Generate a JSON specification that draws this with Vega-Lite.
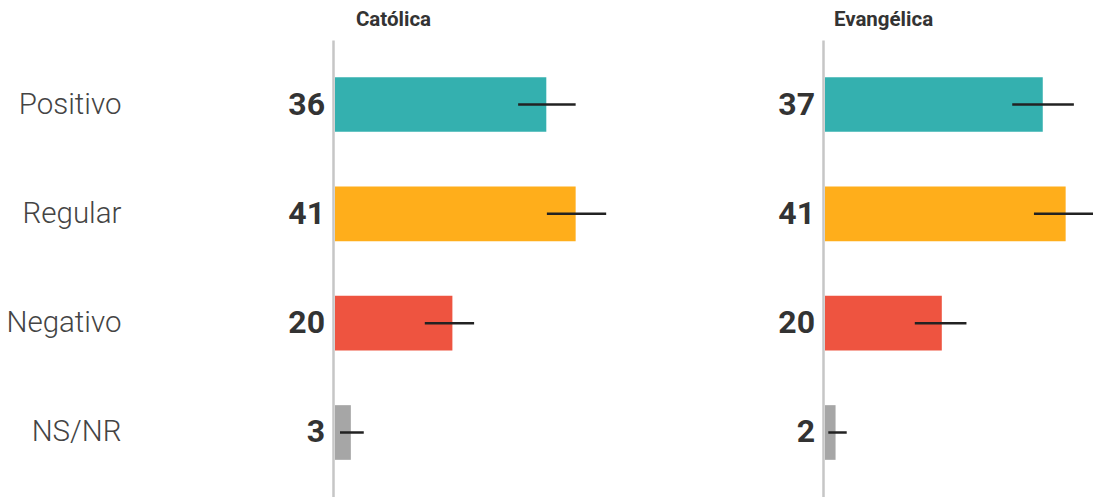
{
  "$schema": "https://vega.github.io/schema/vega-lite/v6.json",
  "background": "white",
  "padding": {"left": 5, "top": 9, "right": 0, "bottom": 0},
  "bounds": "flush",
  "spacing": 220,
  "config": {"view": {"stroke": null}, "font": "Roboto"},
  "datasets": {
    "d": [
      {"grupo": "Católica", "resp": "Positivo", "valor": 36, "lo": 31.2, "hi": 41.0, "rotulo": "36"},
      {"grupo": "Católica", "resp": "Regular", "valor": 41, "lo": 36.1, "hi": 46.2, "rotulo": "41"},
      {"grupo": "Católica", "resp": "Negativo", "valor": 20, "lo": 15.3, "hi": 23.7, "rotulo": "20"},
      {"grupo": "Católica", "resp": "NS/NR", "valor": 2.7, "lo": 0.85, "hi": 4.9, "rotulo": "3"},
      {"grupo": "Evangélica", "resp": "Positivo", "valor": 37.1, "lo": 31.9, "hi": 42.4, "rotulo": "37"},
      {"grupo": "Evangélica", "resp": "Regular", "valor": 41, "lo": 35.6, "hi": 46.4, "rotulo": "41"},
      {"grupo": "Evangélica", "resp": "Negativo", "valor": 19.9, "lo": 15.3, "hi": 24.1, "rotulo": "20"},
      {"grupo": "Evangélica", "resp": "NS/NR", "valor": 1.8, "lo": 0.56, "hi": 3.7, "rotulo": "2"}
    ]
  },
  "hconcat": [
    {
      "data": {"name": "d"},
      "transform": [{"filter": "datum.grupo === 'Católica'"}],
      "title": {"text": "Católica", "anchor": "start", "frame": "group", "align": "center", "dx": 58.5, "fontSize": 20.5, "fontWeight": "bold", "color": "#333333", "font": "Roboto", "offset": 10},
      "width": 270,
      "height": 457,
      "encoding": {
        "y": {"field": "resp", "type": "nominal", "sort": ["Positivo", "Regular", "Negativo", "NS/NR"],
              "scale": {"paddingInner": 0.5, "paddingOuter": 0.34},
              "axis": {"title": null, "ticks": false, "labelPadding": 212, "labelFontSize": 29.5, "labelFontWeight": 300, "labelColor": "#444444", "labelFont": "Roboto", "domainColor": "#c6c6c6", "domainWidth": 2.5, "offset": 2, "grid": false}}
      },
      "layer": [
        {"mark": {"type": "bar"},
         "encoding": {
           "x": {"field": "valor", "type": "quantitative", "scale": {"domain": [0, 46], "nice": false, "zero": true}, "axis": null},
           "color": {"field": "resp", "type": "nominal", "scale": {"domain": ["Positivo", "Regular", "Negativo", "NS/NR"], "range": ["#34b0af", "#ffae1b", "#ee5440", "#a6a6a6"]}, "legend": null}
         }},
        {"mark": {"type": "rule", "strokeWidth": 2.5, "color": "#222222"},
         "encoding": {"x": {"field": "lo", "type": "quantitative"}, "x2": {"field": "hi"}}},
        {"mark": {"type": "text", "align": "right", "baseline": "middle", "dx": -10, "fontSize": 32, "fontWeight": "bold", "color": "#333333", "font": "Roboto"},
         "encoding": {"x": {"datum": 0, "type": "quantitative"}, "text": {"field": "rotulo"}}}
      ]
    },
    {
      "data": {"name": "d"},
      "transform": [{"filter": "datum.grupo === 'Evangélica'"}],
      "title": {"text": "Evangélica", "anchor": "start", "frame": "group", "align": "center", "dx": 58.5, "fontSize": 20.5, "fontWeight": "bold", "color": "#333333", "font": "Roboto", "offset": 10},
      "width": 270,
      "height": 457,
      "encoding": {
        "y": {"field": "resp", "type": "nominal", "sort": ["Positivo", "Regular", "Negativo", "NS/NR"],
              "scale": {"paddingInner": 0.5, "paddingOuter": 0.34},
              "axis": {"title": null, "ticks": false, "labels": false, "domainColor": "#c6c6c6", "domainWidth": 2.5, "offset": 2, "grid": false}}
      },
      "layer": [
        {"mark": {"type": "bar"},
         "encoding": {
           "x": {"field": "valor", "type": "quantitative", "scale": {"domain": [0, 46], "nice": false, "zero": true}, "axis": null},
           "color": {"field": "resp", "type": "nominal", "scale": {"domain": ["Positivo", "Regular", "Negativo", "NS/NR"], "range": ["#34b0af", "#ffae1b", "#ee5440", "#a6a6a6"]}, "legend": null}
         }},
        {"mark": {"type": "rule", "strokeWidth": 2.5, "color": "#222222"},
         "encoding": {"x": {"field": "lo", "type": "quantitative"}, "x2": {"field": "hi"}}},
        {"mark": {"type": "text", "align": "right", "baseline": "middle", "dx": -10, "fontSize": 32, "fontWeight": "bold", "color": "#333333", "font": "Roboto"},
         "encoding": {"x": {"datum": 0, "type": "quantitative"}, "text": {"field": "rotulo"}}}
      ]
    }
  ]
}
